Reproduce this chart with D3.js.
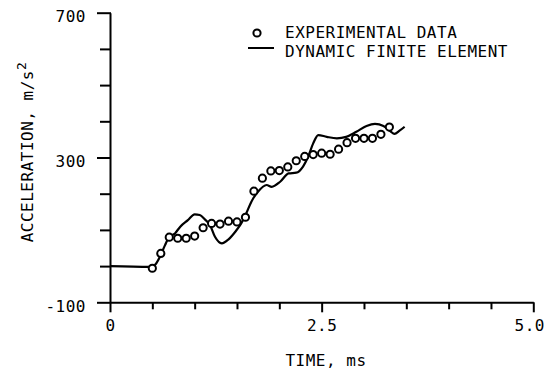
<!DOCTYPE html>
<html>
<head>
<meta charset="utf-8">
<script src="https://cdn.jsdelivr.net/npm/d3@7"></script>
<style>
  html, body { margin: 0; padding: 0; background: #fff; }
  svg { display: block; }
  text { font-family: "DejaVu Sans Mono", monospace; font-size: 16px; fill: #000; letter-spacing: 0.5px; }
</style>
</head>
<body>
<svg id="chart" width="546" height="369"></svg>
<script>
// ---- data ----
const expTime  = [0.5, 0.6, 0.7, 0.8, 0.9, 1.0, 1.1, 1.2, 1.3, 1.4, 1.5, 1.6, 1.7, 1.8, 1.9,
                  2.0, 2.1, 2.2, 2.3, 2.4, 2.5, 2.6, 2.7, 2.8, 2.9, 3.0, 3.1, 3.2, 3.3];
const expAccel = [-6, 35, 80, 77, 77, 83, 106, 118, 116, 124, 122, 135, 207, 243, 263,
                  264, 274, 291, 303, 308, 312, 309, 323, 341, 353, 353, 353, 364, 384];

const dfeTime  = [0, 0.47, 0.53, 0.59, 0.65, 0.69, 0.77, 0.83, 0.92, 1.00, 1.06, 1.12, 1.18,
                  1.24, 1.32, 1.40, 1.48, 1.55, 1.61, 1.67, 1.75, 1.85, 1.91, 2.01, 2.11, 2.20,
                  2.28, 2.34, 2.40, 2.46, 2.56, 2.68, 2.79, 2.91, 3.03, 3.13, 3.23, 3.31, 3.36,
                  3.42, 3.48];
const dfeAccel = [0, -2, 3, 26, 58, 77, 91, 109, 127, 143, 141, 129, 114,
                  81, 63, 74, 95, 118, 146, 178, 206, 224, 219, 233, 256, 258,
                  275, 302, 339, 362, 357, 353, 357, 371, 387, 393, 387, 373, 365,
                  374, 385];

const xTicks = [0, 0.5, 1.0, 1.5, 2.0, 2.5, 3.0, 3.5, 4.0, 4.5, 5.0];
const xMajor = [0, 2.5, 5.0];
const xTickLabels = ["0", "2.5", "5.0"];
const yTicks = [-100, 0, 100, 200, 300, 400, 500, 600, 700];
const yMajor = [-100, 300, 700];
const yTickLabels = ["-100", "300", "700"];

const legendLabels = ["EXPERIMENTAL DATA", "DYNAMIC FINITE ELEMENT"];
const xTitle = "TIME, ms";
const yTitle = "ACCELERATION, m/s";

// ---- layout ----
const svg = d3.select("#chart");
const x = d3.scaleLinear().domain([0, 5]).range([110, 533.3]);
const y = d3.scaleLinear().domain([-100, 700]).range([302.3, 12.7]);

// y axis
const yAxis = d3.axisLeft(y)
  .tickValues(yTicks)
  .tickSizeInner(10).tickSizeOuter(0)
  .tickFormat(d => { const i = yMajor.indexOf(d); return i >= 0 ? yTickLabels[i] : ""; });
const gy = svg.append("g").attr("transform", `translate(${x(0)},0)`).call(yAxis);
gy.select(".domain").attr("stroke", "#000").attr("stroke-width", 2);
gy.selectAll(".tick line").attr("stroke", "#000").attr("stroke-width", 2)
  .attr("x1", 1)
  .attr("x2", d => yMajor.includes(d) ? -13 : -10);
gy.selectAll(".tick text").attr("x", -24).attr("dy", "0.58em")
  .style("font-family", '"DejaVu Sans Mono", monospace').style("font-size", "16px");

// x axis
const xAxis = d3.axisBottom(x)
  .tickValues(xTicks)
  .tickSizeInner(8).tickSizeOuter(0)
  .tickFormat(d => { const i = xMajor.indexOf(d); return i >= 0 ? xTickLabels[i] : ""; });
const gx = svg.append("g").attr("transform", `translate(0,${y(-100)})`).call(xAxis);
gx.select(".domain").attr("stroke", "#000").attr("stroke-width", 2);
gx.selectAll(".tick line").attr("stroke", "#000").attr("stroke-width", 2)
  .attr("y2", d => xMajor.includes(d) ? 10 : 7);
gx.selectAll(".tick text").attr("y", 17).attr("dy", "0.71em")
  .attr("dx", d => d === 5 ? -4 : 0)
  .style("font-family", '"DejaVu Sans Mono", monospace').style("font-size", "16px");

// axis titles
svg.append("text").attr("x", 326).attr("y", 366).attr("text-anchor", "middle").text(xTitle);
const yt = svg.append("text")
  .attr("transform", "translate(33,152) rotate(-90)")
  .attr("text-anchor", "middle");
yt.append("tspan").text(yTitle);
yt.append("tspan").attr("dy", -7).style("font-size", "13px").text("2");

// ---- data marks ----
const line = d3.line().x((d, i) => x(dfeTime[i])).y(d => y(d)).curve(d3.curveMonotoneX);
svg.append("path").datum(dfeAccel)
  .attr("d", line)
  .attr("fill", "none").attr("stroke", "#000").attr("stroke-width", 2.2)
  .attr("stroke-linejoin", "round");

svg.append("g").selectAll("circle").data(expAccel).join("circle")
  .attr("cx", (d, i) => x(expTime[i]))
  .attr("cy", d => y(d))
  .attr("r", 3.6)
  .attr("fill", "#fff").attr("stroke", "#000").attr("stroke-width", 2);

// ---- legend ----
const lg = svg.append("g");
lg.append("circle").attr("cx", 257).attr("cy", 33).attr("r", 3.6)
  .attr("fill", "#fff").attr("stroke", "#000").attr("stroke-width", 2);
lg.append("text").attr("x", 285).attr("y", 37.5).text(legendLabels[0]);
lg.append("line").attr("x1", 248).attr("x2", 274).attr("y1", 48).attr("y2", 48)
  .attr("stroke", "#000").attr("stroke-width", 2);
lg.append("text").attr("x", 285).attr("y", 56.5).text(legendLabels[1]);
</script>
</body>
</html>
